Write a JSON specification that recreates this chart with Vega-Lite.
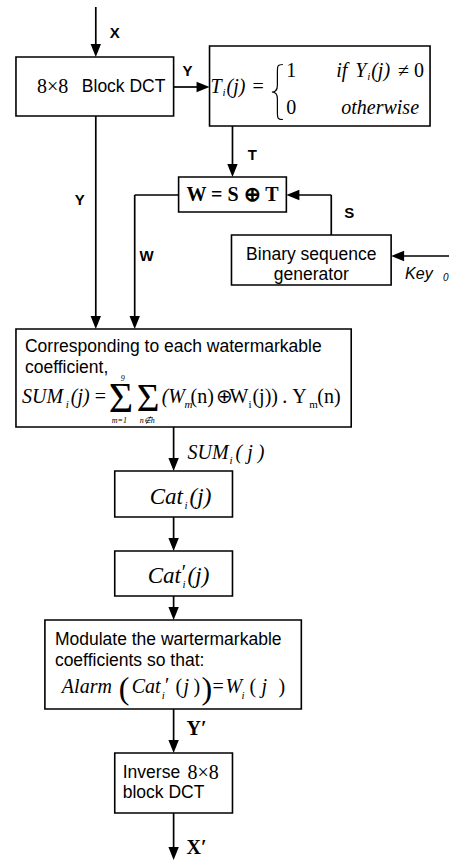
{
  "$schema": "https://vega.github.io/schema/vega-lite/v6.json",
  "width": 450,
  "height": 862,
  "padding": 0,
  "autosize": {"type": "fit", "contains": "padding"},
  "background": "white",
  "config": {"view": {"stroke": null}},
  "datasets": {
    "boxes": [
      {"x": 16, "y": 57, "x2": 174, "y2": 116},
      {"x": 210, "y": 46, "x2": 431, "y2": 126},
      {"x": 179, "y": 177, "x2": 287, "y2": 212},
      {"x": 232, "y": 235, "x2": 392, "y2": 285},
      {"x": 16, "y": 329, "x2": 352, "y2": 427},
      {"x": 115, "y": 471, "x2": 233, "y2": 517},
      {"x": 115, "y": 551, "x2": 233, "y2": 596},
      {"x": 45, "y": 620, "x2": 302, "y2": 709},
      {"x": 115, "y": 753, "x2": 233, "y2": 813}
    ],
    "segs": [
      {"x": 96, "y": 7, "x2": 96, "y2": 50},
      {"x": 174, "y": 87, "x2": 203, "y2": 87},
      {"x": 233, "y": 126, "x2": 233, "y2": 170},
      {"x": 332, "y": 235, "x2": 332, "y2": 195},
      {"x": 332, "y": 195, "x2": 294, "y2": 195},
      {"x": 450, "y": 256, "x2": 399, "y2": 256},
      {"x": 96, "y": 116, "x2": 96, "y2": 322},
      {"x": 179, "y": 195, "x2": 135, "y2": 195},
      {"x": 135, "y": 195, "x2": 135, "y2": 322},
      {"x": 174, "y": 427, "x2": 174, "y2": 464},
      {"x": 174, "y": 517, "x2": 174, "y2": 544},
      {"x": 174, "y": 596, "x2": 174, "y2": 613},
      {"x": 174, "y": 709, "x2": 174, "y2": 746},
      {"x": 174, "y": 813, "x2": 174, "y2": 853}
    ],
    "heads": [
      {"x": 96, "y": 57, "dir": "down"},
      {"x": 210, "y": 87, "dir": "right"},
      {"x": 233, "y": 177, "dir": "down"},
      {"x": 287, "y": 195, "dir": "left"},
      {"x": 392, "y": 256, "dir": "left"},
      {"x": 96, "y": 329, "dir": "down"},
      {"x": 135, "y": 329, "dir": "down"},
      {"x": 174, "y": 471, "dir": "down"},
      {"x": 174, "y": 551, "dir": "down"},
      {"x": 174, "y": 620, "dir": "down"},
      {"x": 174, "y": 753, "dir": "down"},
      {"x": 174, "y": 860, "dir": "down"}
    ],
    "brace": [{"x": 278, "y": 92}],
    "texts": [
      {"x": 115, "y": 33, "t": "X", "r": "lab"},
      {"x": 188, "y": 71, "t": "Y", "r": "lab"},
      {"x": 253, "y": 155, "t": "T", "r": "lab"},
      {"x": 80, "y": 200, "t": "Y", "r": "lab"},
      {"x": 147, "y": 256, "t": "W", "r": "lab"},
      {"x": 350, "y": 213, "t": "S", "r": "lab"},

      {"x": 82, "y": 87, "t": "Block DCT", "r": "body"},
      {"x": 25, "y": 347, "t": "Corresponding to each watermarkable", "r": "body"},
      {"x": 25, "y": 368, "t": "coefficient,", "r": "body"},
      {"x": 55, "y": 640, "t": "Modulate the wartermarkable", "r": "body"},
      {"x": 55, "y": 661, "t": "coefficients so that:", "r": "body"},
      {"x": 123, "y": 773, "t": "Inverse", "r": "body"},
      {"x": 123, "y": 793, "t": "block DCT", "r": "body"},
      {"x": 312, "y": 255, "t": "Binary sequence", "r": "bodyc"},
      {"x": 312, "y": 275, "t": "generator", "r": "bodyc"},
      {"x": 406, "y": 274, "t": "Key", "r": "key"},
      {"x": 444, "y": 278, "t": "0", "r": "keysub"},

      {"x": 37, "y": 87, "t": "8×8", "r": "mr"},
      {"x": 188, "y": 773, "t": "8×8", "r": "mr"},

      {"x": 211, "y": 87, "t": "T", "r": "mi"},
      {"x": 223, "y": 93, "t": "i", "r": "msub"},
      {"x": 227, "y": 87, "t": "(j)", "r": "mi"},
      {"x": 253, "y": 87, "t": "=", "r": "mr"},
      {"x": 287, "y": 71, "t": "1", "r": "mr"},
      {"x": 287, "y": 108, "t": "0", "r": "mr"},
      {"x": 337, "y": 71, "t": "if", "r": "mi"},
      {"x": 356, "y": 71, "t": "Y", "r": "mi"},
      {"x": 368, "y": 77, "t": "i", "r": "msub"},
      {"x": 372, "y": 71, "t": "(j)", "r": "mi"},
      {"x": 399, "y": 71, "t": "≠ 0", "r": "mr"},
      {"x": 342, "y": 108, "t": "otherwise", "r": "mi"},

      {"x": 233, "y": 195, "t": "W = S ⊕ T", "r": "mbc"},

      {"x": 22, "y": 397, "t": "SUM", "r": "mi"},
      {"x": 66, "y": 405, "t": "i", "r": "msub"},
      {"x": 71, "y": 397, "t": "(j)", "r": "mi"},
      {"x": 95, "y": 397, "t": "=", "r": "mr"},
      {"x": 109, "y": 399, "t": "Σ", "r": "sig"},
      {"x": 137, "y": 399, "t": "Σ", "r": "sig2"},
      {"x": 121, "y": 379, "t": "9", "r": "tiny"},
      {"x": 112, "y": 421, "t": "m=1", "r": "tiny"},
      {"x": 140, "y": 421, "t": "n∉h", "r": "tiny"},
      {"x": 162, "y": 397, "t": "(W", "r": "mi"},
      {"x": 185, "y": 405, "t": "m", "r": "msub"},
      {"x": 191, "y": 397, "t": "(n)", "r": "mr"},
      {"x": 216, "y": 397, "t": "⊕", "r": "mr"},
      {"x": 230, "y": 397, "t": "W", "r": "mr"},
      {"x": 249, "y": 405, "t": "i", "r": "mrsub"},
      {"x": 253, "y": 397, "t": "(j))", "r": "mr"},
      {"x": 283, "y": 397, "t": ".", "r": "mr"},
      {"x": 293, "y": 397, "t": "Y", "r": "mr"},
      {"x": 310, "y": 405, "t": "m", "r": "mrsub"},
      {"x": 318, "y": 397, "t": "(n)", "r": "mr"},

      {"x": 188, "y": 453, "t": "SUM", "r": "mi"},
      {"x": 230, "y": 461, "t": "i", "r": "msub"},
      {"x": 236, "y": 453, "t": "( j )", "r": "mi"},

      {"x": 150, "y": 497, "t": "Cat", "r": "mi2"},
      {"x": 185, "y": 506, "t": "i", "r": "msub"},
      {"x": 190, "y": 497, "t": "(j)", "r": "mi2"},
      {"x": 148, "y": 576, "t": "Cat", "r": "mi2"},
      {"x": 181, "y": 573, "t": "′", "r": "mi"},
      {"x": 183, "y": 585, "t": "i", "r": "msub"},
      {"x": 188, "y": 576, "t": "(j)", "r": "mi2"},

      {"x": 62, "y": 687, "t": "Alarm", "r": "mi"},
      {"x": 119, "y": 689, "t": "(", "r": "paren"},
      {"x": 132, "y": 687, "t": "Cat", "r": "mi"},
      {"x": 164, "y": 686, "t": "′", "r": "mi"},
      {"x": 162, "y": 696, "t": "i", "r": "msub"},
      {"x": 176, "y": 687, "t": "(", "r": "mr"},
      {"x": 184, "y": 687, "t": "j", "r": "mi"},
      {"x": 194, "y": 687, "t": ")", "r": "mr"},
      {"x": 202, "y": 689, "t": ")", "r": "paren"},
      {"x": 213, "y": 687, "t": "=", "r": "mr"},
      {"x": 226, "y": 687, "t": "W", "r": "mi"},
      {"x": 242, "y": 696, "t": "i", "r": "msub"},
      {"x": 250, "y": 687, "t": "(", "r": "mr"},
      {"x": 262, "y": 687, "t": "j", "r": "mi"},
      {"x": 279, "y": 687, "t": ")", "r": "mr"},

      {"x": 187, "y": 729, "t": "Y′", "r": "mb"},
      {"x": 187, "y": 848, "t": "X′", "r": "mb"}
    ]
  },
  "encoding": {
    "x": {"field": "x", "type": "quantitative", "axis": null, "scale": {"domain": [0, 450], "nice": false, "zero": false}},
    "y": {"field": "y", "type": "quantitative", "axis": null, "scale": {"domain": [0, 862], "nice": false, "zero": false, "reverse": true}}
  },
  "layer": [
    {
      "data": {"name": "boxes"},
      "mark": {"type": "rect", "fill": "white", "stroke": "black", "strokeWidth": 1.6},
      "encoding": {"x2": {"field": "x2"}, "y2": {"field": "y2"}}
    },
    {
      "data": {"name": "segs"},
      "mark": {"type": "rule", "color": "black", "strokeWidth": 1.7},
      "encoding": {"x2": {"field": "x2"}, "y2": {"field": "y2"}}
    },
    {
      "data": {"name": "heads"},
      "mark": {"type": "point", "filled": true, "color": "black", "opacity": 1, "size": 169, "strokeWidth": 0},
      "encoding": {
        "shape": {"field": "dir", "type": "nominal", "legend": null,
          "scale": {"domain": ["down", "left", "right"], "range": ["M0,0L-0.8,-2L0.8,-2Z", "M0,0L2,-0.8L2,0.8Z", "M0,0L-2,-0.8L-2,0.8Z"]}}
      }
    },
    {
      "data": {"name": "brace"},
      "mark": {"type": "point", "filled": false, "color": "black", "opacity": 1, "size": 3025, "strokeWidth": 1.2,
        "shape": "M0.2,-1C0,-1 0,-0.95 0,-0.7L0,-0.25C0,-0.05 -0.1,0 -0.2,0C-0.1,0 0,0.05 0,0.25L0,0.7C0,0.95 0,1 0.2,1"}
    },
    {"data": {"name": "texts"}, "transform": [{"filter": "datum.r == 'lab'"}],
     "mark": {"type": "text", "font": "Liberation Sans", "fontWeight": "bold", "fontSize": 15, "align": "center", "baseline": "middle", "color": "black"},
     "encoding": {"text": {"field": "t"}}},
    {"data": {"name": "texts"}, "transform": [{"filter": "datum.r == 'body'"}],
     "mark": {"type": "text", "font": "Liberation Sans", "fontSize": 17.5, "align": "left", "baseline": "middle", "color": "black"},
     "encoding": {"text": {"field": "t"}}},
    {"data": {"name": "texts"}, "transform": [{"filter": "datum.r == 'bodyc'"}],
     "mark": {"type": "text", "font": "Liberation Sans", "fontSize": 17.5, "align": "center", "baseline": "middle", "color": "black"},
     "encoding": {"text": {"field": "t"}}},
    {"data": {"name": "texts"}, "transform": [{"filter": "datum.r == 'key'"}],
     "mark": {"type": "text", "font": "Liberation Sans", "fontStyle": "italic", "fontSize": 16, "align": "left", "baseline": "middle", "color": "black"},
     "encoding": {"text": {"field": "t"}}},
    {"data": {"name": "texts"}, "transform": [{"filter": "datum.r == 'keysub'"}],
     "mark": {"type": "text", "font": "Liberation Sans", "fontStyle": "italic", "fontSize": 10, "align": "left", "baseline": "middle", "color": "black"},
     "encoding": {"text": {"field": "t"}}},
    {"data": {"name": "texts"}, "transform": [{"filter": "datum.r == 'mi'"}],
     "mark": {"type": "text", "font": "Liberation Serif", "fontStyle": "italic", "fontSize": 20, "align": "left", "baseline": "middle", "color": "black"},
     "encoding": {"text": {"field": "t"}}},
    {"data": {"name": "texts"}, "transform": [{"filter": "datum.r == 'mi2'"}],
     "mark": {"type": "text", "font": "Liberation Serif", "fontStyle": "italic", "fontSize": 23, "align": "left", "baseline": "middle", "color": "black"},
     "encoding": {"text": {"field": "t"}}},
    {"data": {"name": "texts"}, "transform": [{"filter": "datum.r == 'mr'"}],
     "mark": {"type": "text", "font": "Liberation Serif", "fontSize": 20, "align": "left", "baseline": "middle", "color": "black"},
     "encoding": {"text": {"field": "t"}}},
    {"data": {"name": "texts"}, "transform": [{"filter": "datum.r == 'msub'"}],
     "mark": {"type": "text", "font": "Liberation Serif", "fontStyle": "italic", "fontSize": 11, "align": "left", "baseline": "middle", "color": "black"},
     "encoding": {"text": {"field": "t"}}},
    {"data": {"name": "texts"}, "transform": [{"filter": "datum.r == 'mrsub'"}],
     "mark": {"type": "text", "font": "Liberation Serif", "fontSize": 11, "align": "left", "baseline": "middle", "color": "black"},
     "encoding": {"text": {"field": "t"}}},
    {"data": {"name": "texts"}, "transform": [{"filter": "datum.r == 'tiny'"}],
     "mark": {"type": "text", "font": "Liberation Serif", "fontStyle": "italic", "fontSize": 8, "align": "left", "baseline": "middle", "color": "black"},
     "encoding": {"text": {"field": "t"}}},
    {"data": {"name": "texts"}, "transform": [{"filter": "datum.r == 'sig'"}],
     "mark": {"type": "text", "font": "Liberation Serif", "fontSize": 42, "align": "left", "baseline": "middle", "color": "black"},
     "encoding": {"text": {"field": "t"}}},
    {"data": {"name": "texts"}, "transform": [{"filter": "datum.r == 'sig2'"}],
     "mark": {"type": "text", "font": "Liberation Serif", "fontSize": 39, "align": "left", "baseline": "middle", "color": "black"},
     "encoding": {"text": {"field": "t"}}},
    {"data": {"name": "texts"}, "transform": [{"filter": "datum.r == 'paren'"}],
     "mark": {"type": "text", "font": "Liberation Serif", "fontSize": 32, "align": "left", "baseline": "middle", "color": "black"},
     "encoding": {"text": {"field": "t"}}},
    {"data": {"name": "texts"}, "transform": [{"filter": "datum.r == 'mb'"}],
     "mark": {"type": "text", "font": "Liberation Serif", "fontWeight": "bold", "fontSize": 20, "align": "left", "baseline": "middle", "color": "black"},
     "encoding": {"text": {"field": "t"}}},
    {"data": {"name": "texts"}, "transform": [{"filter": "datum.r == 'mbc'"}],
     "mark": {"type": "text", "font": "Liberation Serif", "fontWeight": "bold", "fontSize": 20, "align": "center", "baseline": "middle", "color": "black"},
     "encoding": {"text": {"field": "t"}}}
  ]
}
